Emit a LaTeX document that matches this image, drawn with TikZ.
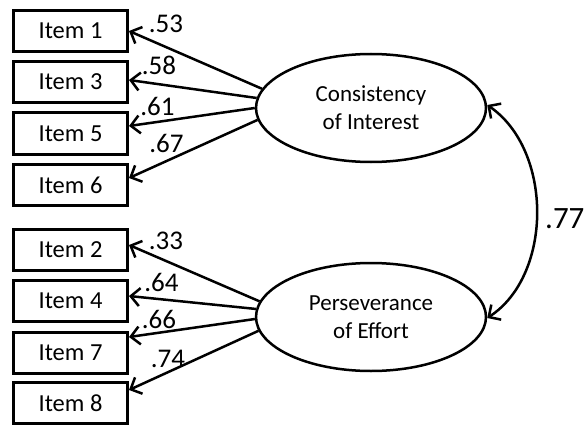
\documentclass[tikz,border=0pt]{standalone}
\usepackage{fontspec}
\setmainfont{Carlito}
\usetikzlibrary{arrows.meta,shapes.geometric}
\begin{document}
\begin{tikzpicture}[x=1pt,y=-1pt,
  itembox/.style={draw, line width=3pt, minimum width=114pt, minimum height=41pt, inner sep=0pt, font=\fontsize{24.5}{26}\selectfont},
  latent/.style={draw, ellipse, line width=2.5pt, minimum width=230pt, minimum height=108pt, inner sep=0pt, align=center, font=\fontsize{23}{28}\selectfont},
  loading/.style={inner sep=0pt, anchor=base, font=\fontsize{27}{28}\selectfont},
  loadpath/.style={line width=2.5pt, -{Straight Barb[length=9pt,width=18pt]}},
  corr/.style={line width=2.5pt, {Straight Barb[length=9pt,width=18pt]}-{Straight Barb[length=9pt,width=18pt]}}
]
\useasboundingbox (0,0) rectangle (586,425);
\node[itembox] (b1) at (70.5,31) {Item 1};
\node[itembox] (b3) at (70.5,82) {Item 3};
\node[itembox] (b5) at (70.5,133.5) {Item 5};
\node[itembox] (b6) at (70.5,185) {Item 6};
\node[itembox] (b2) at (70.5,250) {Item 2};
\node[itembox] (b4) at (70.5,300.5) {Item 4};
\node[itembox] (b7) at (70.5,352.5) {Item 7};
\node[itembox] (b8) at (70.5,403) {Item 8};
\node[latent] (c1) at (371,108) {Consistency\\of Interest};
\node[latent] (c2) at (371,317) {Perseverance\\of Effort};
\draw[loadpath] (c1.170) -- ([yshift=0pt]b1.east);
\draw[loadpath] (c1.175) -- ([yshift=2pt]b3.east);
\draw[loadpath] (c1.180) -- ([yshift=7.5pt]b5.east);
\draw[loadpath] (c1.186) -- ([yshift=7pt]b6.east);
\draw[loadpath] (c2.172) -- ([yshift=5pt]b2.east);
\draw[loadpath] (c2.176) -- ([yshift=4.5pt]b4.east);
\draw[loadpath] (c2.181) -- ([yshift=15.5pt]b7.east);
\draw[loadpath] (c2.187) -- ([yshift=13pt]b8.east);
\draw[corr] ([yshift=3pt]c1.east) .. controls (553,150) and (553,275) .. ([yshift=-1pt]c2.east);
\node[loading] (l1) at (166,33) {.53};
\node[loading] (l3) at (159,75) {.58};
\node[loading] (l5) at (157.5,116) {.61};
\node[loading] (l6) at (166.5,153) {.67};
\node[loading] (l2) at (166,249) {.33};
\node[loading] (l4) at (161.5,291) {.64};
\node[loading] (l7) at (159,328) {.66};
\node[loading] (l8) at (168,367) {.74};
\node[inner sep=0pt, anchor=base west, font=\fontsize{31}{32}\selectfont] (r) at (545,228) {.77};
\end{tikzpicture}
\end{document}
